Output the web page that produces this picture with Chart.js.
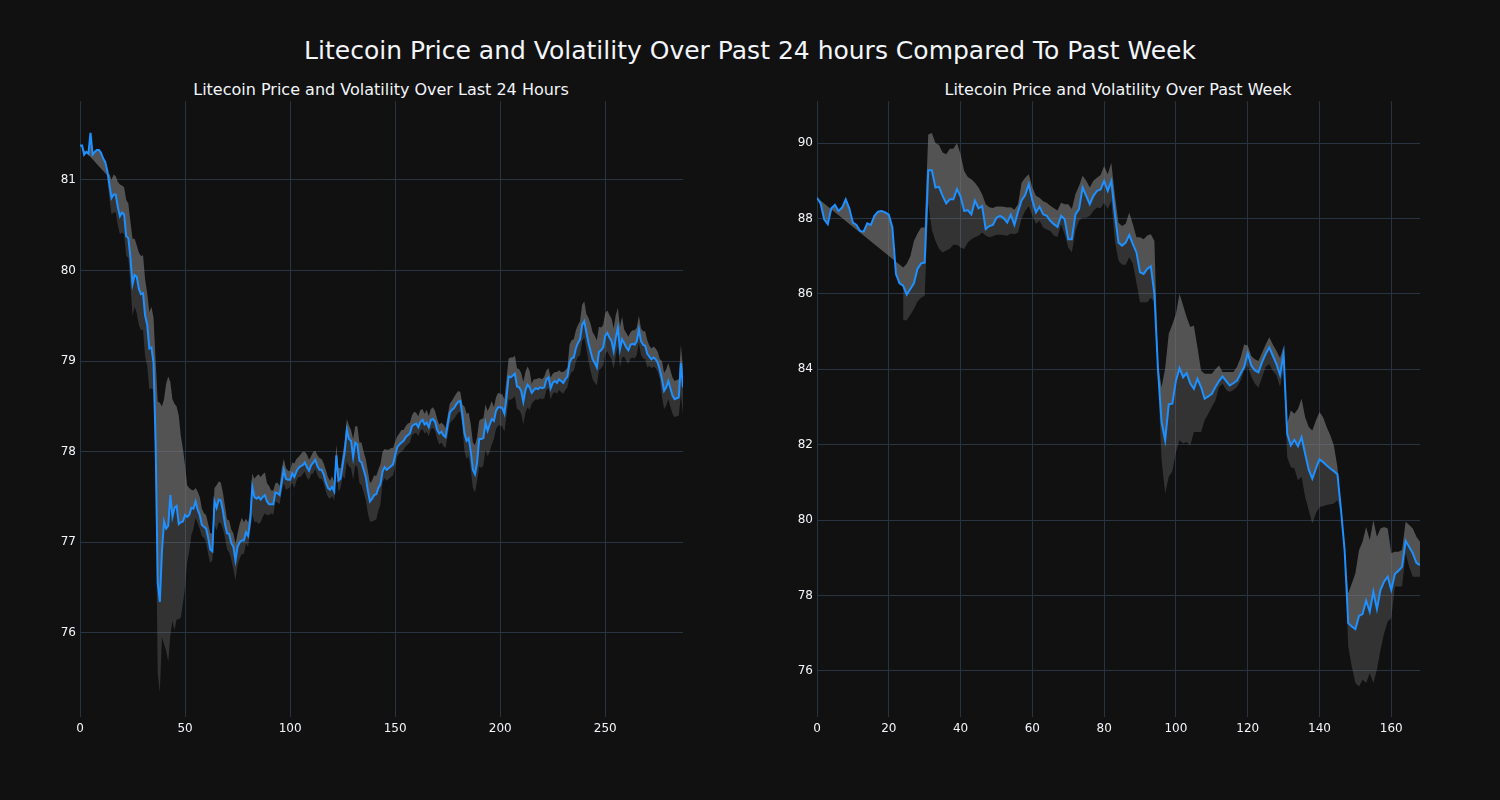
<!DOCTYPE html>
<html>
<head>
<meta charset="utf-8">
<script src="https://cdn.jsdelivr.net/npm/chart.js@4.4.1/dist/chart.umd.min.js"></script>
<style>
  html, body { margin: 0; padding: 0; background: #111111; width: 1500px; height: 800px; overflow: hidden; }
  .t { position: absolute; color: #f2f5fa; font-family: "DejaVu Sans", sans-serif; white-space: nowrap; transform: translate(-50%, -50%); }
  canvas { position: absolute; }
</style>
</head>
<body>
<div class="t" style="left:750px; top:50px; font-size:25px;">Litecoin Price and Volatility Over Past 24 hours Compared To Past Week</div>
<div class="t" style="left:381px; top:89px; font-size:16px;">Litecoin Price and Volatility Over Last 24 Hours</div>
<div class="t" style="left:1118px; top:89px; font-size:16px;">Litecoin Price and Volatility Over Past Week</div>
<canvas id="c1" width="663" height="657" style="left:30px; top:90px;"></canvas>
<canvas id="c2" width="663" height="657" style="left:767px; top:90px;"></canvas>
<script>
// ---- Last 24 hours (5-minute steps) ----
const dayPrice = [
81.38,81.38,81.28,81.31,81.29,81.52,81.28,81.31,81.33,81.33,
81.30,81.24,81.20,81.10,80.95,80.80,80.84,80.84,80.70,80.60,
80.64,80.62,80.38,80.36,80.14,79.85,79.95,79.93,79.80,79.74,
79.75,79.50,79.40,79.14,79.15,78.98,78.10,76.55,76.34,76.90,
77.23,77.15,77.18,77.52,77.28,77.38,77.40,77.20,77.22,77.23,
77.30,77.28,77.30,77.38,77.37,77.45,77.36,77.30,77.19,77.17,
77.15,77.05,76.92,76.90,77.45,77.38,77.47,77.46,77.35,77.20,
77.10,77.09,76.99,76.95,76.80,76.95,77.00,77.02,77.02,77.11,
77.07,77.24,77.61,77.50,77.48,77.50,77.47,77.50,77.52,77.45,
77.42,77.42,77.42,77.55,77.54,77.52,77.66,77.80,77.70,77.69,
77.69,77.76,77.72,77.78,77.82,77.84,77.85,77.88,77.83,77.79,
77.85,77.88,77.91,77.84,77.80,77.80,77.75,77.66,77.60,77.58,
77.61,77.56,77.96,77.68,77.70,77.85,78.00,78.24,78.14,78.12,
77.94,78.10,78.08,77.90,77.88,77.80,77.72,77.57,77.45,77.48,
77.52,77.53,77.60,77.64,77.78,77.83,77.80,77.82,77.84,77.86,
77.96,78.05,78.08,78.10,78.12,78.16,78.18,78.20,78.28,78.30,
78.31,78.27,78.33,78.35,78.30,78.32,78.27,78.35,78.36,78.33,
78.24,78.20,78.22,78.18,78.16,78.30,78.43,78.46,78.48,78.52,
78.55,78.56,78.40,78.20,78.12,78.15,78.00,77.80,77.75,77.88,
78.14,78.14,78.15,78.32,78.23,78.30,78.36,78.34,78.45,78.49,
78.49,78.48,78.42,78.60,78.83,78.82,78.84,78.86,78.72,78.71,
78.67,78.55,78.68,78.74,78.71,78.65,78.68,78.70,78.69,78.71,
78.70,78.71,78.80,78.82,78.70,78.76,78.78,78.76,78.80,78.78,
78.76,78.80,78.83,78.98,79.03,79.04,79.14,79.20,79.24,79.40,
79.44,79.32,79.20,79.11,79.02,78.98,78.93,79.10,79.12,79.15,
79.28,79.31,79.26,79.22,79.11,79.26,79.37,79.13,79.24,79.20,
79.15,79.12,79.18,79.19,79.18,79.22,79.35,79.22,79.18,79.17,
79.08,79.05,79.02,79.04,79.02,78.98,78.90,78.80,78.67,78.71,
78.78,78.70,78.62,78.58,78.59,78.60,78.98,78.71
];
// band above price (upper - price); null = no band value
const dayUp = [
0,null,null,null,null,null,null,null,null,null,
null,null,null,-0.05,0.12,0.20,0.22,0.20,0.28,0.35,
0.30,0.30,0.40,0.38,0.40,0.50,0.40,0.35,0.40,0.42,
0.42,0.40,0.35,0.40,0.45,0.50,0.90,2.00,2.20,1.60,
1.35,1.60,1.65,1.25,1.30,1.15,1.10,1.20,0.95,0.80,
0.55,0.35,0.30,0.20,0.20,0.15,0.20,0.20,0.18,0.15,
0.15,0.15,0.18,0.20,0.15,0.25,0.20,0.20,0.20,0.20,
0.15,0.15,0.15,0.15,0.18,0.15,0.20,0.25,0.20,0.15,
0.15,0.10,0.15,0.20,0.25,0.25,0.25,0.25,0.25,0.20,
0.20,0.15,0.15,0.10,0.12,0.10,0.15,0.12,0.12,0.10,
0.10,0.12,0.15,0.14,0.12,0.13,0.15,0.12,0.14,0.12,
0.10,0.12,0.10,0.12,0.13,0.12,0.12,0.14,0.12,0.10,
0.12,0.10,0.12,0.14,0.12,0.12,0.12,0.12,0.15,0.12,
0.20,0.18,0.20,0.20,0.22,0.20,0.20,0.22,0.20,0.20,
0.22,0.20,0.20,0.22,0.22,0.20,0.22,0.20,0.20,0.18,
0.15,0.12,0.12,0.14,0.12,0.12,0.13,0.12,0.12,0.14,
0.12,0.12,0.13,0.12,0.12,0.14,0.12,0.12,0.13,0.12,
0.12,0.10,0.10,0.12,0.10,0.10,0.10,0.10,0.12,0.12,
0.12,0.10,0.12,0.30,0.30,0.28,0.30,0.30,0.32,0.28,
0.20,0.22,0.22,0.20,0.22,0.20,0.20,0.15,0.15,0.16,
0.15,0.15,0.16,0.20,0.20,0.22,0.20,0.20,0.20,0.20,
0.20,0.22,0.20,0.20,0.18,0.10,0.12,0.10,0.12,0.10,
0.10,0.12,0.10,0.10,0.12,0.10,0.10,0.12,0.10,0.10,
0.12,0.10,0.10,0.20,0.20,0.20,0.20,0.20,0.20,0.22,
0.22,0.20,0.28,0.30,0.30,0.30,0.30,0.28,0.25,0.25,
0.25,0.25,0.25,0.25,0.25,0.25,0.22,0.25,0.25,0.15,
0.16,0.15,0.14,0.15,0.16,0.15,0.15,0.14,0.15,0.16,
0.15,0.12,0.12,0.12,0.12,0.12,0.12,0.20,0.20,0.20,
0.20,0.20,0.20,0.20,0.20,0.20,0.20,0.20
];
// band below price (price - lower)
const dayDown = [
null,null,null,null,null,null,null,null,null,null,
null,null,null,0.12,0.15,0.18,0.20,0.20,0.20,0.20,
0.22,0.22,0.22,0.22,0.30,0.35,0.35,0.40,0.40,0.40,
0.40,0.45,0.45,0.45,0.45,0.30,0.60,1.00,1.00,0.95,
1.35,1.35,1.50,1.55,1.15,1.35,1.25,1.05,1.05,0.90,
0.80,0.50,0.40,0.30,0.22,0.18,0.15,0.15,0.12,0.12,
0.15,0.18,0.15,0.10,0.25,0.25,0.25,0.25,0.20,0.15,
0.18,0.20,0.18,0.25,0.22,0.20,0.18,0.15,0.15,0.12,
0.12,0.12,0.30,0.28,0.25,0.30,0.25,0.22,0.20,0.15,
0.12,0.10,0.12,0.10,0.10,0.10,0.10,0.15,0.12,0.10,
0.08,0.10,0.12,0.10,0.10,0.12,0.10,0.10,0.12,0.10,
0.10,0.12,0.10,0.10,0.10,0.10,0.10,0.10,0.10,0.10,
0.10,0.10,0.10,0.12,0.10,0.12,0.30,0.35,0.30,0.30,
0.25,0.25,0.25,0.25,0.25,0.25,0.25,0.25,0.22,0.25,
0.28,0.28,0.25,0.22,0.12,0.12,0.12,0.12,0.12,0.12,
0.12,0.10,0.10,0.10,0.10,0.10,0.10,0.10,0.10,0.10,
0.10,0.10,0.10,0.10,0.10,0.10,0.10,0.10,0.10,0.10,
0.10,0.12,0.12,0.12,0.12,0.12,0.12,0.12,0.12,0.12,
0.12,0.12,0.12,0.20,0.20,0.20,0.20,0.20,0.20,0.20,
0.30,0.32,0.30,0.30,0.28,0.30,0.28,0.20,0.20,0.20,
0.20,0.20,0.20,0.20,0.25,0.25,0.25,0.25,0.25,0.25,
0.25,0.25,0.25,0.25,0.25,0.12,0.12,0.12,0.12,0.12,
0.12,0.12,0.12,0.12,0.12,0.12,0.12,0.12,0.12,0.12,
0.12,0.12,0.12,0.15,0.15,0.15,0.15,0.15,0.18,0.18,
0.18,0.18,0.20,0.22,0.22,0.22,0.20,0.20,0.20,0.20,
0.20,0.20,0.20,0.20,0.20,0.20,0.20,0.20,0.20,0.15,
0.15,0.15,0.15,0.15,0.15,0.15,0.15,0.15,0.15,0.15,
0.15,0.10,0.10,0.10,0.10,0.10,0.10,0.20,0.20,0.20,
0.20,0.20,0.20,0.20,0.20,0.20,0.35,0.30
];

// ---- Past week (hourly) ----
const weekPrice = [
88.55,88.40,87.98,87.85,88.27,88.36,88.20,88.29,88.51,88.27,
87.89,87.83,87.67,87.65,87.87,87.83,88.07,88.18,88.20,88.16,
88.10,87.76,86.53,86.28,86.22,85.98,86.13,86.28,86.66,86.81,
86.83,89.28,89.28,88.82,88.84,88.60,88.40,88.51,88.51,88.78,
88.58,88.20,88.22,88.11,88.47,88.27,88.33,87.72,87.80,87.83,
88.02,88.07,88.01,87.89,88.10,87.83,88.18,88.48,88.62,88.91,
88.48,88.16,88.31,88.11,88.07,87.94,87.85,87.78,88.07,87.98,
87.45,87.45,88.11,88.25,88.82,88.60,88.38,88.60,88.73,88.77,
88.99,88.73,88.99,88.11,87.36,87.28,87.36,87.56,87.32,87.10,
86.57,86.53,86.66,86.73,86.00,84.00,82.60,82.12,83.07,83.09,
83.70,84.03,83.79,83.90,83.62,83.48,83.75,83.53,83.22,83.28,
83.35,83.53,83.69,83.81,83.69,83.57,83.63,83.70,83.88,84.06,
84.43,84.10,83.97,83.92,84.19,84.41,84.58,84.36,84.14,83.85,
84.41,82.29,81.98,82.13,81.96,82.20,81.76,81.34,81.10,81.37,
81.61,81.54,81.45,81.37,81.30,81.22,80.26,79.20,77.27,77.18,
77.11,77.46,77.51,77.87,77.57,78.10,77.64,78.15,78.37,78.50,
78.15,78.57,78.66,78.76,79.45,79.29,79.12,78.87,78.81
];
const weekUp = [
0,null,null,null,null,null,null,null,null,null,
null,null,null,null,null,null,null,null,null,null,
null,null,null,null,0.48,0.82,0.87,1.12,0.94,0.95,
0.93,0.95,0.99,1.18,1.11,1.15,1.30,1.34,1.34,1.22,
1.12,1.06,0.88,0.93,0.48,0.55,0.31,0.66,0.50,0.45,
0.30,0.25,0.30,0.40,0.20,0.40,0.20,0.47,0.46,0.26,
0.34,0.44,0.24,0.35,0.35,0.40,0.42,0.43,0.35,0.40,
0.93,0.80,0.53,0.61,0.31,0.40,0.44,0.40,0.35,0.38,
0.40,0.44,0.49,0.49,0.53,0.52,0.50,0.60,0.53,0.40,
0.93,0.92,0.89,0.85,1.40,0.10,0.93,1.90,1.87,2.10,
1.77,1.97,1.90,1.48,1.50,1.68,0.83,0.44,0.66,0.60,
0.53,0.47,0.41,0.12,0.24,0.36,0.30,0.36,0.42,0.60,
0.20,0.25,0.30,0.30,0.25,0.25,0.27,0.30,0.35,0.45,
0.20,0.27,0.93,0.69,0.99,1.02,0.97,1.13,1.28,1.27,
1.26,1.19,1.02,0.88,0.68,0.19,0.05,0.05,0.79,1.14,
1.48,1.74,1.92,1.95,1.90,1.90,1.92,1.63,1.45,1.28,
0.97,0.59,0.50,0.45,0.51,0.58,0.66,0.69,0.62
];
const weekDown = [
null,null,null,null,null,null,null,null,null,null,
null,null,null,null,null,null,null,null,null,null,
null,null,null,null,0.92,0.68,0.68,0.68,0.86,0.91,
0.88,0.88,1.58,1.42,1.64,1.50,1.25,1.31,1.21,1.48,
1.35,1.01,0.86,0.66,0.97,0.73,0.70,0.17,0.30,0.30,
0.45,0.50,0.45,0.35,0.50,0.25,0.55,0.48,0.42,0.58,
0.40,0.30,0.37,0.35,0.36,0.27,0.30,0.27,0.23,0.40,
0.22,0.35,0.44,0.31,0.80,0.58,0.31,0.40,0.44,0.50,
0.57,0.48,0.52,0.71,0.48,0.51,0.59,0.59,0.52,0.80,
0.79,0.75,0.88,0.83,0.20,0.30,1.00,1.42,1.92,1.79,
1.90,1.91,1.76,1.83,1.64,1.14,1.41,1.19,0.57,0.46,
0.35,0.36,0.16,0.19,0.24,0.17,0.18,0.17,0.18,0.09,
0.33,0.30,0.35,0.40,0.40,0.35,0.44,0.40,0.30,0.32,
0.40,0.62,0.57,0.76,0.90,1.05,1.14,1.08,1.19,1.19,
1.26,1.17,1.05,0.95,0.86,0.69,0.05,0.05,0.62,1.06,
1.43,1.87,1.74,2.19,1.63,2.42,1.61,1.59,1.37,1.19,
0.75,0.33,0.42,0.52,0.33,0.53,0.62,0.37,0.31
];

const GRID = '#283442';
const TXT = '#f2f5fa';
const LINE = '#1E90FF';
const BAND_UP = 'rgba(128,128,128,0.6)';
const BAND_DOWN = 'rgba(128,128,128,0.31)';
const FONT = 'DejaVu Sans';

function buildDatasets(price, up, down) {
  const p = price.map((v, i) => ({ x: i, y: v }));
  const u = price.map((v, i) => ({ x: i, y: up[i] === null ? null : +(v + up[i]).toFixed(3) }));
  const l = price.map((v, i) => ({ x: i, y: down[i] === null ? null : +(v - down[i]).toFixed(3) }));
  return [
    { data: p, borderColor: LINE, borderWidth: 2, pointRadius: 0, fill: false, tension: 0 },
    { data: u, borderWidth: 0, borderColor: 'rgba(0,0,0,0)', pointRadius: 0, fill: 0, backgroundColor: BAND_UP, spanGaps: true, tension: 0 },
    { data: l, borderWidth: 0, borderColor: 'rgba(0,0,0,0)', pointRadius: 0, fill: 0, backgroundColor: BAND_DOWN, spanGaps: false, tension: 0 }
  ];
}

function makeChart(id, price, up, down, xMax, xStep, yMin, yMax, yStep) {
  return new Chart(document.getElementById(id), {
    type: 'line',
    data: { datasets: buildDatasets(price, up, down) },
    options: {
      responsive: false,
      animation: false,
      events: [],
      layout: { padding: { top: 10, right: 10, left: 0, bottom: 0 } },
      plugins: { legend: { display: false }, tooltip: { enabled: false }, title: { display: false } },
      scales: {
        x: {
          type: 'linear', min: 0, max: xMax,
          grid: { color: GRID, lineWidth: 1, drawTicks: false },
          border: { display: false },
          ticks: { stepSize: xStep, includeBounds: false, color: TXT, padding: 5, maxRotation: 0,
                   font: { family: FONT, size: 12 } },
          afterFit: s => { s.height = 30; }
        },
        y: {
          type: 'linear', min: yMin, max: yMax,
          grid: { color: GRID, lineWidth: 1, drawTicks: false },
          border: { display: false },
          ticks: { stepSize: yStep, includeBounds: false, color: TXT, padding: 4,
                   font: { family: FONT, size: 12 } },
          afterFit: s => { s.width = 50; }
        }
      }
    }
  });
}

makeChart('c1', dayPrice, dayUp, dayDown, 287, 50, 75.07, 81.87, 1);
makeChart('c2', weekPrice, weekUp, weekDown, 168, 20, 74.78, 91.11, 2);
</script>
</body>
</html>
